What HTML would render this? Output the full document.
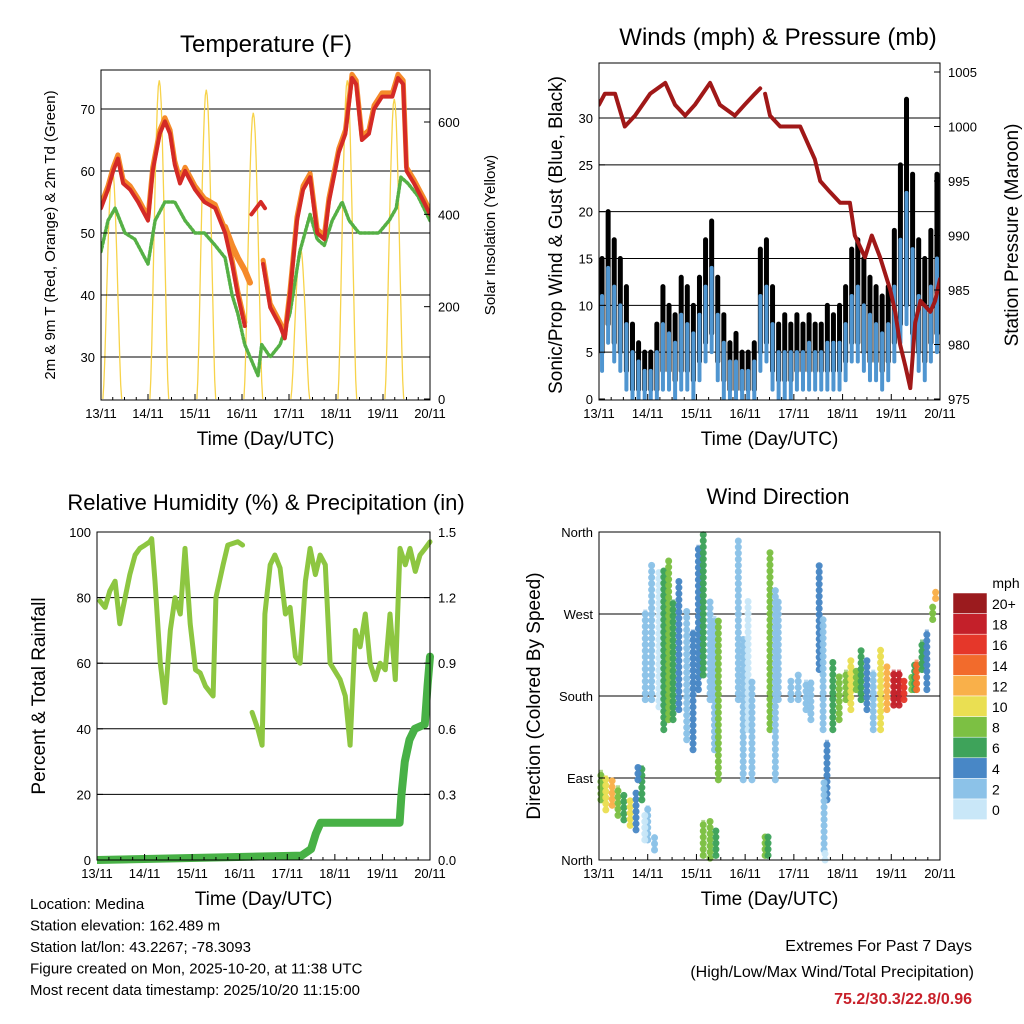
<!DOCTYPE html>
<html><head><meta charset="utf-8"><style>
body{margin:0;background:#fff;}
svg{display:block;font-family:"Liberation Sans",sans-serif;}
</style></head><body>
<svg id="s" width="1024" height="1024" viewBox="0 0 1024 1024"></svg>
<script>
// ---------- data ----------
const dayLabels=["13/11","14/11","15/11","16/11","17/11","18/11","19/11","20/11"];
const tRedT=[0,0.15,0.26,0.36,0.47,0.62,0.79,1.0,1.1,1.25,1.36,1.47,1.57,1.68,1.79,2.0,2.2,2.43,2.64,2.79,2.91,3.06];
const tRedV=[54,57,60,62,58,57,55,52,60,66,68,66,61,58,60,57,55,54,50,45,40,35];
const tRed2T=[3.2,3.3,3.4,3.49];
const tRed2V=[53,54,55,54];
const tRed3T=[3.45,3.6,3.81,3.91,4.02,4.17,4.3,4.45,4.6,4.75,4.85,5.06,5.2,5.34,5.43,5.55,5.7,5.81,5.98,6.2,6.32,6.43,6.5,6.66,6.87,7.0];
const tRed3V=[45,38,35,33,40,52,57,59,50,49,55,63,66,75,74,65,66,70,72,72,75,74,60,58,55,53];
const tOrgT=[2.64,2.79,2.91,3.06,3.17];
const tOrgV=[51,48,46,44,42];
const tGrnT=[0,0.15,0.3,0.51,0.72,1.0,1.15,1.36,1.57,1.79,2.0,2.2,2.43,2.64,2.79,2.91,3.06,3.17,3.34,3.42,3.6,3.81,4.02,4.23,4.45,4.6,4.75,4.92,5.13,5.28,5.49,5.7,5.91,6.13,6.28,6.38,6.53,6.74,7.0];
const tGrnV=[47,52,54,50,49,45,52,55,55,52,50,50,48,46,40,37,32,30,27,32,30,32,37,47,53,49,48,52,55,52,50,50,50,52,54,59,58,56,52];
const solarPeaks=[500,690,670,620,330,690,650];
const gustHi=[15,20,17,15,12,8,6,5, 5,8,12,10,9,13,12,10, 13,17,19,13,9,6,7,5, 5,6,16,17,12,8,9,8, 9,8,9,8,8,10,9,10, 12,16,17,15,13,12,11,12, 18,25,32,24,17,15,18,24];
const windHi=[11,14,12,10,8,5,4,3, 3,5,8,7,6,9,8,7, 9,12,14,9,6,4,4,3, 3,4,11,12,8,5,5,5, 5,5,6,5,5,6,6,6, 8,11,12,10,9,8,7,8, 12,17,22,16,11,10,12,15];
const windLo=[5,8,6,5,3,1,1,1, 1,1,3,3,2,3,3,2, 4,6,7,4,2,1,1,1, 1,1,5,6,3,2,2,2, 3,3,3,3,3,3,3,3, 4,6,6,5,4,4,3,4, 6,8,10,7,5,4,6,7];
const presT=[0,0.12,0.33,0.53,0.74,1.05,1.36,1.56,1.77,1.97,2.28,2.48,2.79,2.99,3.2,3.31];
const presV=[1002,1003,1003,1000,1001,1003,1004,1002,1001,1002,1004,1002,1001,1002,1003,1003.5];
const pres2T=[3.41,3.51,3.72,3.92,4.13,4.23,4.43,4.54,4.74,4.95,5.15,5.25,5.46,5.6,5.77,5.98,6.08,6.18,6.29,6.39,6.49,6.6,6.8,6.9,7.0];
const pres2V=[1003,1001,1000,1000,1000,999,997,995,994,993,993,990,988,990,988,985,983,980,978,976,982,984,983,984,986];
const rhT=[0.06,0.17,0.27,0.38,0.48,0.59,0.69,0.8,0.9,1.01,1.11,1.15,1.22,1.33,1.43,1.54,1.64,1.75,1.85,1.96,2.07,2.17,2.28,2.44,2.5,2.65,2.75,2.96,3.06];
const rhV=[79,77,82,85,72,80,87,93,95,96,97,98,85,60,48,70,80,75,95,72,58,57,53,50,80,90,96,97,96];
const rh2T=[3.26,3.38,3.47,3.53,3.64,3.74,3.85,3.96,4.06,4.17,4.27,4.38,4.48,4.59,4.69,4.8,4.9,5.11,5.22,5.32,5.43,5.53,5.64,5.74,5.85,5.95,6.06,6.16,6.27,6.37,6.48,6.58,6.69,6.79,6.9,7.0];
const rh2V=[45,40,35,75,90,93,89,75,77,62,60,85,95,87,93,90,60,55,50,35,70,65,75,60,55,60,58,75,55,95,90,95,88,93,95,97];
const pcpT=[0,4.3,4.5,4.6,4.7,6.36,6.4,6.47,6.57,6.68,6.89,6.95,7.0];
const pcpV=[0,0.02,0.05,0.12,0.17,0.17,0.3,0.45,0.55,0.6,0.62,0.8,0.93];
const wdT=[0.04,0.14,0.27,0.39,0.51,0.64,0.76,0.88,1.0,1.14,0.94,0.8,0.95,1.08,1.23,1.33,1.43,1.52,1.64,1.8,1.93,2.04,2.14,2.28,2.37,2.45,2.14,2.28,2.4,2.86,2.96,3.06,3.14,3.41,3.51,3.62,3.68,3.47,3.94,4.09,4.25,4.35,4.52,4.6,4.68,4.62,4.64,4.8,4.93,5.07,5.17,5.28,5.38,5.5,5.63,5.78,5.91,6.05,6.16,6.26,6.42,6.48,6.52,6.63,6.73,6.85,6.91];
const wdLo=[66,55,60,49,44,38,33,66,22,11,22,88,176,176,168,143,154,154,165,132,121,187,203,176,121,88,5,2,5,176,88,143,88,5,143,88,176,5,176,176,165,154,209,143,66,11,0,143,154,176,165,187,176,165,143,143,165,170,170,176,187,187,187,209,187,264,287];
const wdHi=[99,93,88,82,71,66,77,104,60,27,49,104,275,325,319,319,330,286,308,275,253,346,357,286,268,264,44,44,33,352,242,286,198,27,338,297,286,27,198,203,198,198,325,264,132,88,11,220,203,209,220,209,231,220,209,231,214,209,209,198,203,214,220,242,253,280,296];
const wdSp=[8,10,12,9,6,10,4,6,3,2,1,4,3,2,1,6,8,7,4,3,4,4,7,3,2,8,8,9,7,3,2,1,2,9,8,3,2,7,3,2,2,3,4,2,4,3,1,6,9,8,10,8,7,4,3,11,13,18,19,17,9,6,15,7,5,8,12];
const cbLabels=["20+","18","16","14","12","10","8","6","4","2","0"];
const cbColors=["#9b1b1e","#c4202a","#e5372a","#f26b2c","#f9b04a","#eadf52","#7cc043","#3ea35a","#4887c6","#8cc2e8","#c9e7f8"];

const S=document.getElementById('s');const NS="http://www.w3.org/2000/svg";
function el(tag,attrs,parent,txt){const e=document.createElementNS(NS,tag);for(const k in attrs)e.setAttribute(k,attrs[k]);if(txt!==undefined)e.textContent=txt;(parent||S).appendChild(e);return e;}
function txt(x,y,s,size,anchor,name,extra){const t=el('text',Object.assign({x:x,y:y,'font-size':size,'text-anchor':anchor||'middle',fill:'#000'},extra||{}),S,s);

return t;}
function lin(x0,x1,d0,d1){return v=>x0+(v-d0)*(x1-x0)/(d1-d0);}
function line(xs,ys,xf,yf,color,w,name){let d='';xs.forEach((t,i)=>{d+=(i?'L':'M')+xf(t).toFixed(1)+' '+yf(ys[i]).toFixed(1);});
const p=el('path',{d:d,fill:'none',stroke:color,'stroke-width':w,'stroke-linejoin':'round','stroke-linecap':'round'});

return p;}
function frame(x0,y0,x1,y1,name){const r=el('rect',{x:x0,y:y0,width:x1-x0,height:y1-y0,fill:'none',stroke:'#000','stroke-width':1});

}
function grid(x0,x1,y,name){const l=el('line',{x1:x0,x2:x1,y1:y,y2:y,stroke:'#000','stroke-width':1});

}
function xaxis(x0,x1,y1,name){const xf=lin(x0,x1,0,7);dayLabels.forEach((l,i)=>{const x=xf(i);el('line',{x1:x,x2:x,y1:y1,y2:y1-6,stroke:'#000'});txt(x,y1+18,l,13,'middle',name+'-tick-'+i);
for(let k=1;k<4;k++){if(i<7){const xm=xf(i+k/4);el('line',{x1:xm,x2:xm,y1:y1,y2:y1-3,stroke:'#000'});}}});
txt((x0+x1)/2,y1+45,'Time (Day/UTC)',19,'middle',name+'-title');return xf;}
function yticks(x,yf,vals,labels,side,name){vals.forEach((v,i)=>{const y=yf(v);el('line',{x1:x,x2:x+(side<0?6:-6),y1:y,y2:y,stroke:'#000'});
txt(x+(side<0?-6:8),y+5,labels[i],13,side<0?'end':'start',name+'-tick-'+i);});}

// Panel 1
{const X0=101,X1=430,Y0=70,Y1=400;const xf=lin(X0,X1,0,7);const yf=lin(357,109,30,70);const sf=lin(399,122,0,600);
const cp=el('clipPath',{id:'c1'});el('rect',{x:X0,y:Y0,width:X1-X0,height:Y1-Y0},cp);
[30,40,50,60,70].forEach(v=>grid(X0,X1,yf(v),'temp-gridline-'+v));
const g=el('g',{'clip-path':'url(#c1)'});
solarPeaks.forEach((pk,d)=>{let dd='';for(let k=0;k<=20;k++){const t=d+0.04+k*0.02;const v=pk*Math.pow(Math.sin(Math.PI*k/20),1.5);dd+=(k?'L':'M')+xf(t).toFixed(1)+' '+sf(v).toFixed(1);}
const p=el('path',{d:dd,fill:'none',stroke:'#f7d34a','stroke-width':1.3},g);

});
{const p=line(tGrnT,tGrnV,xf,yf,'#55b045',3.5,'dewpoint-line');p.setAttribute('stroke-dasharray','2 2');g.appendChild(p);}
g.appendChild(line(tOrgT,tOrgV,xf,yf,'#f58a2a',6,'temp-9m-line'));
g.appendChild(line(tRedT,tRedV.map(v=>v+0.6),xf,yf,'#f58a2a',5,'temp-9m-line-a'));
g.appendChild(line(tRed3T,tRed3V.map(v=>v+0.6),xf,yf,'#f58a2a',5,'temp-9m-line-b'));
g.appendChild(line(tRedT,tRedV,xf,yf,'#d42a26',4,'temp-2m-line-a'));
g.appendChild(line(tRed2T,tRed2V,xf,yf,'#d42a26',4,'temp-2m-line-b'));
g.appendChild(line(tRed3T,tRed3V,xf,yf,'#d42a26',4,'temp-2m-line-c'));
frame(X0,Y0,X1,Y1,'temperature-plot-frame');
yticks(X0,yf,[30,40,50,60,70],['30','40','50','60','70'],-1,'temp-y');
yticks(X1,sf,[0,200,400,600],['0','200','400','600'],1,'solar-y');
xaxis(X0,X1,Y1,'temp-x');
txt(266,52,'Temperature (F)',24,'middle','temperature-title');
txt(0,0,'2m & 9m T (Red, Orange) & 2m Td (Green)',15,'middle','temp-y-title',{transform:'translate(55,235) rotate(-90)'});
txt(0,0,'Solar Insolation (Yellow)',15,'middle','solar-y-title',{transform:'translate(495,235) rotate(-90)'});}

// Panel 2
{const X0=599,X1=940,Y0=63,Y1=400;const xf=lin(X0,X1,0,7);const yf=lin(399,118,0,30);const pf=lin(399,72,975,1005);
const cp=el('clipPath',{id:'c2'});el('rect',{x:X0,y:Y0,width:X1-X0,height:Y1-Y0},cp);
[5,10,15,20,25,30].forEach(v=>grid(X0,X1,yf(v),'wind-gridline-'+v));
const g=el('g',{'clip-path':'url(#c2)'});
gustHi.forEach((v,i)=>{const x=xf((i+0.5)/8);const r=el('line',{x1:x,x2:x,y1:yf(windLo[i]),y2:yf(v),stroke:'#000','stroke-width':5,'stroke-linecap':'round'},g);

});
windHi.forEach((v,i)=>{const x=xf((i+0.5)/8);const r=el('line',{x1:x,x2:x,y1:yf(Math.max(0,windLo[i]-2)),y2:yf(v),stroke:'#4f95d0','stroke-width':4,'stroke-linecap':'round'},g);

});
g.appendChild(line(presT,presV,xf,pf,'#a01818',4,'pressure-line-a'));
g.appendChild(line(pres2T,pres2V,xf,pf,'#a01818',4,'pressure-line-b'));
frame(X0,Y0,X1,Y1,'winds-plot-frame');
yticks(X0,yf,[0,5,10,15,20,25,30],['0','5','10','15','20','25','30'],-1,'wind-y');
yticks(X1,pf,[975,980,985,990,995,1000,1005],['975','980','985','990','995','1000','1005'],1,'pressure-y');
xaxis(X0,X1,Y1,'wind-x');
txt(778,45,'Winds (mph) & Pressure (mb)',24,'middle','winds-title');
txt(0,0,'Sonic/Prop Wind & Gust (Blue, Black)',19,'middle','wind-y-title',{transform:'translate(562,235) rotate(-90)'});
txt(0,0,'Station Pressure (Maroon)',19,'middle','pressure-y-title',{transform:'translate(1018,235) rotate(-90)'});}

// Panel 3
{const X0=97,X1=430,Y0=532,Y1=860;const xf=lin(X0,X1,0,7);const yf=lin(860,532,0,100);const qf=lin(860,532,0,1.5);
const cp=el('clipPath',{id:'c3'});el('rect',{x:X0,y:Y0-5,width:X1-X0+5,height:Y1-Y0+10},cp);
[20,40,60,80].forEach(v=>grid(X0,X1,yf(v),'rh-gridline-'+v));
const g=el('g',{'clip-path':'url(#c3)'});
g.appendChild(line(rhT,rhV,xf,yf,'#8dc641',5,'rh-line-a'));
g.appendChild(line(rh2T,rh2V,xf,yf,'#8dc641',5,'rh-line-b'));
g.appendChild(line(pcpT,pcpV,xf,qf,'#48b146',8,'precip-line'));
frame(X0,Y0,X1,Y1,'rh-plot-frame');
yticks(X0,yf,[0,20,40,60,80,100],['0','20','40','60','80','100'],-1,'rh-y');
yticks(X1,qf,[0,0.3,0.6,0.9,1.2,1.5],['0.0','0.3','0.6','0.9','1.2','1.5'],1,'precip-y');
xaxis(X0,X1,Y1,'rh-x');
txt(266,510,'Relative Humidity (%) & Precipitation (in)',22,'middle','rh-title');
txt(0,0,'Percent & Total Rainfall',19,'middle','rh-y-title',{transform:'translate(45,696) rotate(-90)'});}

// Panel 4
{const X0=599,X1=940,Y0=532,Y1=860;const xf=lin(X0,X1,0,7);const yf=lin(860,532,0,360);
[90,180,270].forEach(v=>grid(X0,X1,yf(v),'dir-gridline-'+v));
const col=s=>cbColors[10-Math.min(10,Math.floor(s/2))];
wdT.forEach((t,i)=>{const x=xf(t);const r=el('line',{x1:x,x2:x,y1:yf(wdLo[i]),y2:yf(wdHi[i]),stroke:col(wdSp[i]),'stroke-width':7,'stroke-linecap':'round','stroke-dasharray':'0.1 6',opacity:0.95});


const r2=el('line',{x1:x,x2:x,y1:yf(wdLo[i]),y2:yf(wdHi[i]),stroke:col(wdSp[i]),'stroke-width':4,opacity:0.6});

});
frame(X0,Y0,X1,Y1,'direction-plot-frame');
yticks(X0,yf,[0,90,180,270,360],['North','East','South','West','North'],-1,'dir-y');
xaxis(X0,X1,Y1,'dir-x');
txt(778,504,'Wind Direction',22,'middle','direction-title');
txt(0,0,'Direction (Colored By Speed)',19,'middle','dir-y-title',{transform:'translate(540,696) rotate(-90)'});
txt(1006,588,'mph',14,'middle','colorbar-title');
cbColors.forEach((c,i)=>{const y=593+i*20.6;const r=el('rect',{x:953,y:y,width:34,height:20.6,fill:c,stroke:'#fff','stroke-width':0.5});


txt(992,y+16,cbLabels[i],14,'start','colorbar-label-'+i);});}

['Location: Medina','Station elevation: 162.489 m','Station lat/lon: 43.2267; -78.3093','Figure created on Mon, 2025-10-20, at 11:38 UTC','Most recent data timestamp: 2025/10/20 11:15:00'].forEach((s,i)=>txt(30,909+i*21.5,s,15,'start','station-info-'+i));
txt(972,951,'Extremes For Past 7 Days',16,'end','extremes-title');
txt(974,977,'(High/Low/Max Wind/Total Precipitation)',16,'end','extremes-subtitle');
txt(972,1004,'75.2/30.3/22.8/0.96',16,'end','extremes-values',{fill:'#c8202a','font-weight':'bold'});
</script>
</body></html>
